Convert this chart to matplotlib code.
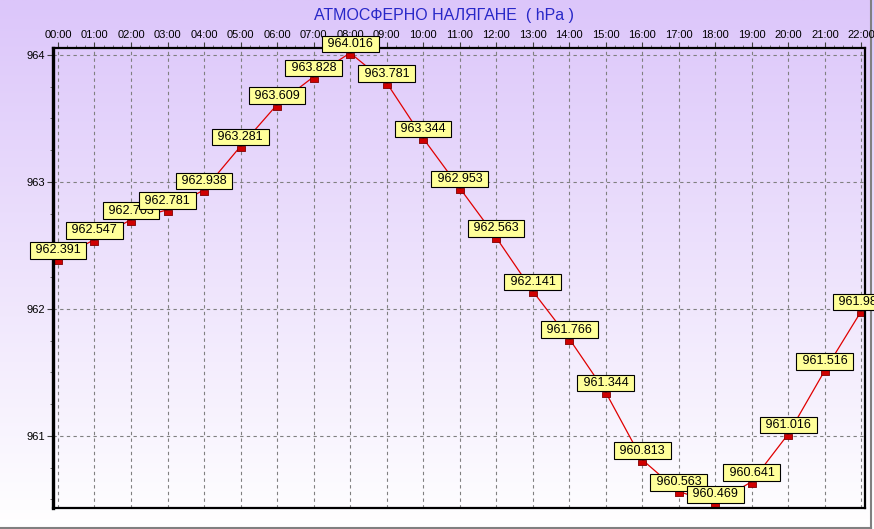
import numpy as np
from matplotlib import pyplot as plt
from matplotlib.ticker import MultipleLocator

hours = ["00:00", "01:00", "02:00", "03:00", "04:00", "05:00", "06:00", "07:00",
         "08:00", "09:00", "10:00", "11:00", "12:00", "13:00", "14:00", "15:00",
         "16:00", "17:00", "18:00", "19:00", "20:00", "21:00", "22:00"]
pressure = [962.391, 962.547, 962.703, 962.781, 962.938, 963.281, 963.609, 963.828,
            964.016, 963.781, 963.344, 962.953, 962.563, 962.141, 961.766, 961.344,
            960.813, 960.563, 960.469, 960.641, 961.016, 961.516, 961.984]
y_ticks = [961, 962, 963, 964]

plt.rcParams["font.family"] = ["Liberation Sans", "DejaVu Sans"]

fig = plt.figure(figsize=(8.74, 5.29), dpi=100)

# background gradient, lavender at top to white at bottom
bg = fig.add_axes([0, 0, 1, 1], zorder=-10)
grad = np.linspace(0, 1, 256).reshape(-1, 1)
top = np.array([220, 198, 250]) / 255.0
bottom = np.array([255, 255, 255]) / 255.0
img = top * (1 - grad[..., None]) + bottom * grad[..., None]
img = np.repeat(img, 2, axis=1)
bg.imshow(img, aspect="auto", extent=[0, 1, 0, 1])
bg.plot([0, 0.9966], [0.0019, 0.0019], color="#808080", lw=1.5)
bg.plot([0.9966, 0.9966], [0.0019, 1], color="#808080", lw=1.5)
bg.set_xlim(0, 1)
bg.set_ylim(0, 1)
bg.axis("off")

ax = fig.add_axes([0.0606, 0.0397, 0.9291, 0.8696])
ax.patch.set_alpha(0)

x = np.arange(len(hours))
ax.plot(x, pressure, color="#E00000", lw=0.9, zorder=3)
# marker hangs just below the point, like the original chart
rect = [(-1, -1.2), (1, -1.2), (1, 0), (-1, 0), (-1, -1.2)]
ax.plot(x, pressure, linestyle="none", marker=rect, markersize=7,
        markerfacecolor="#D00000", markeredgecolor="#800000", markeredgewidth=0.6, zorder=4)

for xi, yi in zip(x, pressure):
    ax.annotate(f" {yi:.3f} ", (xi, yi), xytext=(0, 2.2), textcoords="offset points",
                ha="center", va="bottom", fontsize=9, annotation_clip=False, zorder=6,
                bbox=dict(boxstyle="square,pad=0.18", fc="#FFFF99", ec="black", lw=0.8))

ax.set_xlim(-0.137, 22.1)
ax.set_ylim(960.433, 964.055)
ax.set_xticks(x)
ax.set_xticklabels(hours, fontsize=8)
ax.xaxis.tick_top()
ax.set_yticks(y_ticks)
ax.set_yticklabels([str(v) for v in y_ticks], fontsize=8)
ax.yaxis.set_minor_locator(MultipleLocator(0.25))
ax.xaxis.set_minor_locator(MultipleLocator(0.25))
ax.tick_params(axis="both", which="major", length=4, width=0.8, color="#404040", pad=2)
ax.tick_params(axis="both", which="minor", length=2, width=0.6, color="#606060")
ax.grid(True, which="major", color="#808080", linestyle=(0, (3, 3)), lw=0.8)

for side in ["left", "right", "top", "bottom"]:
    ax.spines[side].set_linewidth(1.6)
    ax.spines[side].set_color("black")
    ax.spines[side].set_zorder(5)
ax.spines["left"].set_linewidth(2.4)

fig.text(0.508, 0.971, "АТМОСФЕРНО НАЛЯГАНЕ  ( hPa )", ha="center", va="center",
         fontsize=11.5, color="#2828C8")

fig.savefig("out.png", dpi=100)
